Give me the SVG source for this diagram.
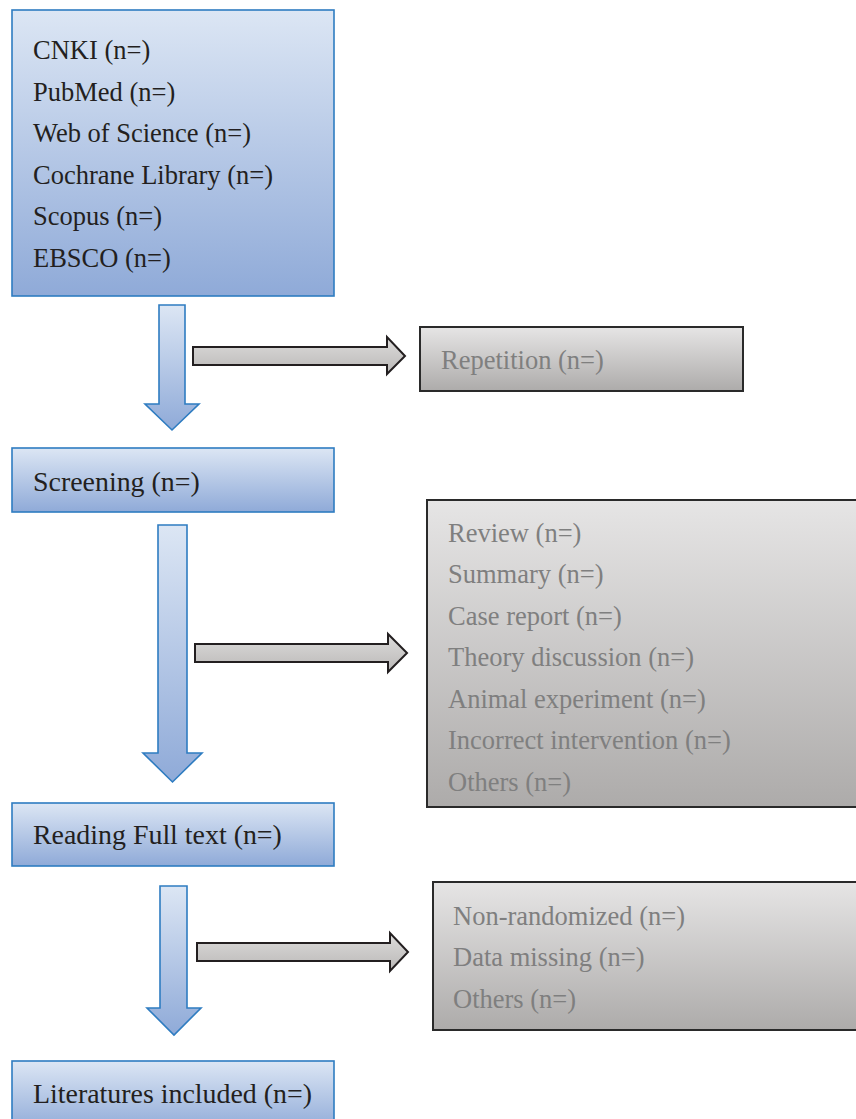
<svg xmlns="http://www.w3.org/2000/svg" width="856" height="1119" viewBox="0 0 856 1119">
<defs>
<linearGradient id="gb" x1="0" y1="0" x2="0" y2="1">
<stop offset="0" stop-color="#dce6f4"/>
<stop offset="1" stop-color="#8faad8"/>
</linearGradient>
<linearGradient id="gg" x1="0" y1="0" x2="0" y2="1">
<stop offset="0" stop-color="#e6e5e5"/>
<stop offset="1" stop-color="#adabaa"/>
</linearGradient>
<linearGradient id="ga" x1="0" y1="0" x2="0" y2="1">
<stop offset="0" stop-color="#dddcdb"/>
<stop offset="1" stop-color="#bab8b7"/>
</linearGradient>
</defs>
<style>
.bb{fill:url(#gb);stroke:#2e7cc1;stroke-width:1.6}
.gb{fill:url(#gg);stroke:#2a2a2a;stroke-width:2}
.da{fill:url(#gb);stroke:#2e7cc1;stroke-width:1.6;stroke-linejoin:miter}
.ra{fill:url(#ga);stroke:#231f20;stroke-width:2;stroke-linejoin:miter}
text{font-family:"Liberation Serif","Times New Roman",serif;font-size:26.5px}
.t{fill:#231f20}
.L{font-size:27.9px}
.g{fill:#7f7f7f}
</style>
<g id="connectors">
<polygon class="da" points="159,305 185,305 185,404 199,404 172,430 145,404 159,404"/>
<polygon class="da" points="158,525 187,525 187,753 202,753 172.5,782 143,753 158,753"/>
<polygon class="da" points="160,886 187,886 187,1008 201,1008 174,1035 147,1008 160,1008"/>
<polygon class="ra" points="193,347 387,347 387,337 405,356 387,374 387,365 193,365"/>
<polygon class="ra" points="195,644 388,644 388,634 407,653 388,672 388,662 195,662"/>
<polygon class="ra" points="197,943 390,943 390,933 408,952 390,971 390,961 197,961"/>
</g>
<g id="databases">
<rect class="bb" x="12" y="10" width="322" height="286"/>
<text class="t" x="33" y="59">CNKI (n=)</text>
<text class="t" x="33" y="100.5">PubMed (n=)</text>
<text class="t" x="33" y="142">Web of Science (n=)</text>
<text class="t" x="33" y="183.5">Cochrane Library (n=)</text>
<text class="t" x="33" y="225">Scopus (n=)</text>
<text class="t" x="33" y="266.5">EBSCO (n=)</text>
</g>
<g id="repetition">
<rect class="gb" x="420" y="327" width="323" height="64"/>
<text class="g" x="441" y="369">Repetition (n=)</text>
</g>
<g id="screening">
<rect class="bb" x="12" y="448" width="322" height="64"/>
<text class="t L" x="33" y="491">Screening (n=)</text>
</g>
<g id="excluded-screening">
<rect class="gb" x="427" y="500" width="450" height="307"/>
<text class="g" x="448" y="541.5">Review (n=)</text>
<text class="g" x="448" y="583">Summary (n=)</text>
<text class="g" x="448" y="624.5">Case report (n=)</text>
<text class="g" x="448" y="666">Theory discussion (n=)</text>
<text class="g" x="448" y="707.5">Animal experiment (n=)</text>
<text class="g" x="448" y="749">Incorrect intervention (n=)</text>
<text class="g" x="448" y="790.5">Others (n=)</text>
</g>
<g id="reading">
<rect class="bb" x="12" y="803" width="322" height="63"/>
<text class="t L" x="33" y="844">Reading Full text (n=)</text>
</g>
<g id="excluded-reading">
<rect class="gb" x="433" y="882" width="450" height="148"/>
<text class="g" x="453" y="924.5">Non-randomized (n=)</text>
<text class="g" x="453" y="966">Data missing (n=)</text>
<text class="g" x="453" y="1007.5">Others (n=)</text>
</g>
<g id="included">
<rect class="bb" x="12" y="1061" width="322" height="70"/>
<text class="t L" x="33" y="1103">Literatures included (n=)</text>
</g>
</svg>
